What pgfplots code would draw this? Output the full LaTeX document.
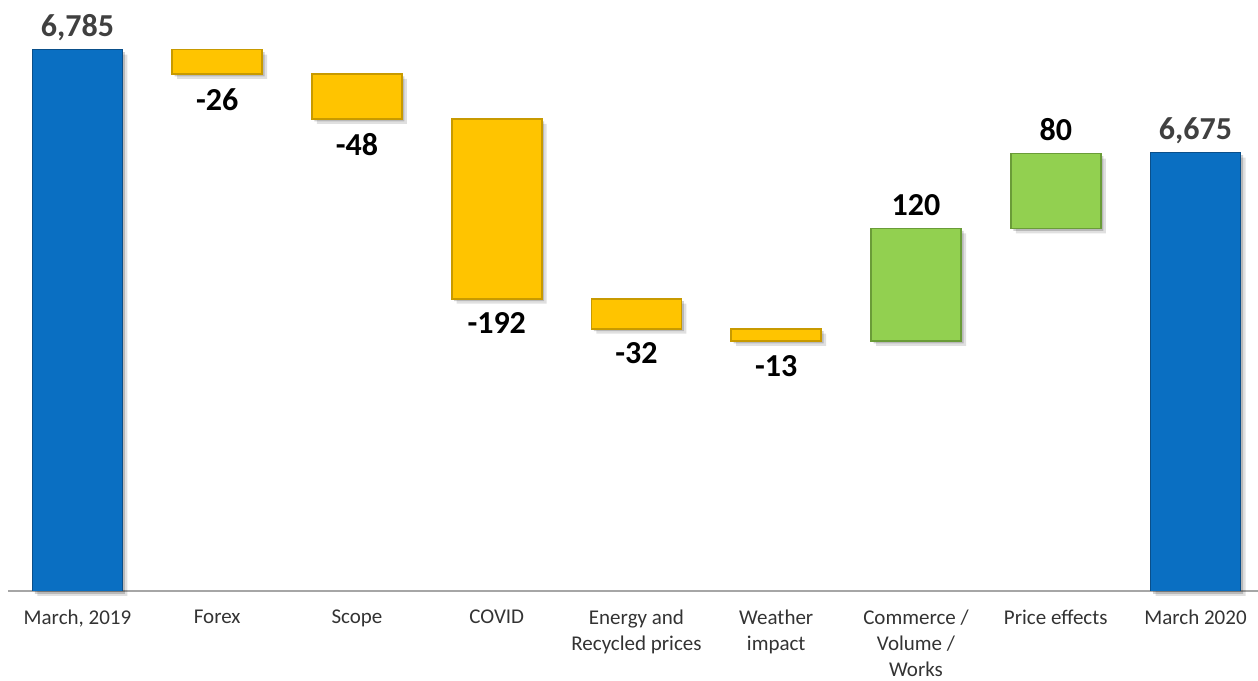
\documentclass[border=0pt]{standalone}
\usepackage{fontspec}
\setmainfont{Carlito}
\usepackage{pgfplots}
\usepackage{pgfplotstable}
\pgfplotsset{compat=1.18}
\definecolor{wfblue}{HTML}{0A6FC2}
\definecolor{wfblueD}{HTML}{0A4F8A}
\definecolor{wfyellow}{HTML}{FFC400}
\definecolor{wfyellowD}{HTML}{C89A00}
\definecolor{wfgreen}{HTML}{92D050}
\definecolor{wfgreenD}{HTML}{6A9C38}
\definecolor{ticktext}{HTML}{333333}
\definecolor{totaltext}{HTML}{404040}

\pgfplotstableread{
x base h
0 0 6785
8 0 6675
}\bluebars
\pgfplotstableread{
x base h
1 6759 26
2 6711 48
3 6519 192
4 6487 32
5 6474 13
}\yellowbars
\pgfplotstableread{
x base h
6 6474 120
7 6594 80
}\greenbars
\pgfplotstableread{
x base h
0 0 6785
1 6759 26
2 6711 48
3 6519 192
4 6487 32
5 6474 13
6 6474 120
7 6594 80
8 0 6675
}\allbars
\pgfplotstableread{
x y lab
0 6785 6,785
8 6675 6,675
}\totlab
\pgfplotstableread{
x y lab
1 6759 -26
2 6711 -48
3 6519 -192
4 6487 -32
5 6474 -13
}\neglab
\pgfplotstableread{
x y lab
6 6594 120
7 6674 80
}\poslab

\pgfplotsset{
  wf/.style={width=1250pt, height=591pt, scale only axis,
    xmin=-0.497, xmax=8.447, ymin=6207, ymax=6838},
  wfbars/.style={wf, hide axis, ybar stacked, bar width=90pt},
}
\tikzset{vallab/.style={font=\fontsize{32}{38}\selectfont\bfseries, inner sep=0pt, text depth=0pt}}

\begin{document}
\begin{tikzpicture}
\useasboundingbox (-8pt,-89pt) rectangle (1250pt,591pt);
% axis line and category labels
\begin{axis}[wf, axis x line=bottom, axis y line=none,
  axis line style={-, draw=black!35, line width=1.5pt},
  xtick={0,...,8},
  xticklabels={{March, 2019},Forex,Scope,COVID,{Energy and\\Recycled prices},{Weather\\impact},{Commerce /\\Volume /\\Works},Price effects,March 2020},
  major tick length=0pt,
  xticklabel style={font=\fontsize{21}{26}\selectfont, text=ticktext, align=center, anchor=north, inner sep=0pt, yshift=-19pt}]
\addplot[draw=none, mark=none] coordinates {(0,6300)};
\end{axis}
% soft shadow
\begin{axis}[wfbars, xshift=5pt, yshift=-5pt]
\addplot[draw=none, fill=none] table[x=x,y=base]{\allbars};
\addplot[draw=none, fill=black, fill opacity=0.12] table[x=x,y=h]{\allbars};
\end{axis}
\begin{axis}[wfbars, xshift=2.5pt, yshift=-2.5pt]
\addplot[draw=none, fill=none] table[x=x,y=base]{\allbars};
\addplot[draw=none, fill=black, fill opacity=0.18] table[x=x,y=h]{\allbars};
\end{axis}
% blue bars
\begin{axis}[wfbars]
\addplot[draw=none, fill=none] table[x=x,y=base]{\bluebars};
\addplot[fill=wfblue, draw=wfblueD, line width=1.6pt] table[x=x,y=h]{\bluebars};
\end{axis}
% yellow bars
\begin{axis}[wfbars]
\addplot[draw=none, fill=none] table[x=x,y=base]{\yellowbars};
\addplot[fill=wfyellow, draw=wfyellowD, line width=1.6pt] table[x=x,y=h]{\yellowbars};
\end{axis}
% green bars
\begin{axis}[wfbars]
\addplot[draw=none, fill=none] table[x=x,y=base]{\greenbars};
\addplot[fill=wfgreen, draw=wfgreenD, line width=1.6pt] table[x=x,y=h]{\greenbars};
\end{axis}
% value labels
\begin{axis}[wf, hide axis, clip=false]
\addplot[draw=none, mark=none, nodes near coords, point meta=explicit symbolic,
  nodes near coords align={anchor=south},
  every node near coord/.append style={vallab, text=totaltext, anchor=south, yshift=13pt}]
  table[x=x,y=y,meta=lab]{\totlab};
\addplot[draw=none, mark=none, nodes near coords, point meta=explicit symbolic,
  nodes near coords align={anchor=north},
  every node near coord/.append style={vallab, text=black, anchor=north, yshift=-14pt}]
  table[x=x,y=y,meta=lab]{\neglab};
\addplot[draw=none, mark=none, nodes near coords, point meta=explicit symbolic,
  nodes near coords align={anchor=south},
  every node near coord/.append style={vallab, text=black, anchor=south, yshift=13pt}]
  table[x=x,y=y,meta=lab]{\poslab};
\end{axis}
\end{tikzpicture}
\end{document}
